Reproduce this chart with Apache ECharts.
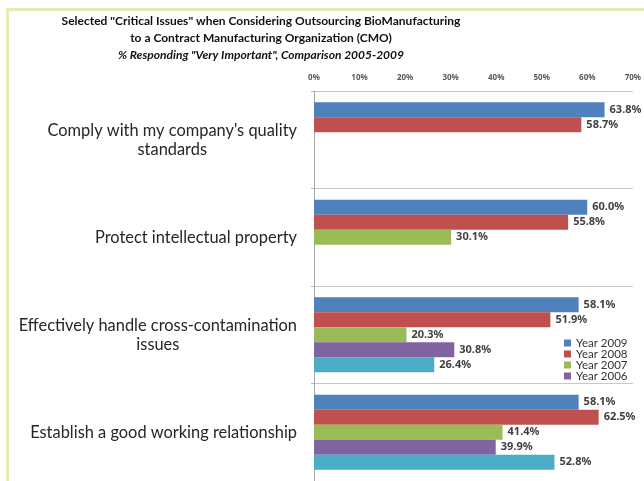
<!DOCTYPE html>
<html>
<head>
<meta charset="utf-8">
<script src="https://cdn.jsdelivr.net/npm/echarts@6/dist/echarts.min.js"></script>
<style>
	html, body { margin: 0; padding: 0; background: #fff; }
	#chart { width: 644px; height: 481px; }
</style>
</head>
<body>
<div id="chart"></div>
<script>
// 数据
var issues = [
	"Comply with my company's quality\nstandards",
	"Protect intellectual property",
	"Effectively handle cross-contamination\nissues",
	"Establish a good working relationship"
];
var years = ['Year 2009', 'Year 2008', 'Year 2007', 'Year 2006', 'Year 2005'];
var legendYears = ['Year 2009', 'Year 2008', 'Year 2007', 'Year 2006'];
var y2009 = [63.8, 60.0, 58.1, 58.1];
var y2008 = [58.7, 55.8, 51.9, 62.5];
var y2007 = [null, 30.1, 20.3, 41.4];
var y2006 = [null, null, 30.8, 39.9];
var y2005 = [null, null, 26.4, 52.8];
var xTicks = [0, 10, 20, 30, 40, 50, 60, 70];

var colors = ['#4F81BD', '#C0504D', '#9BBB59', '#8064A2', '#4BACC6'];
var seriesData = [y2009, y2008, y2007, y2006, y2005];

var chart = echarts.init(document.getElementById('chart'));

var series = [];
for (var i = 0; i < years.length; i++) {
	series.push({
		name: years[i],
		type: 'bar',
		barWidth: 15,
		barGap: '0%',
		itemStyle: { color: colors[i] },
		label: {
			show: true,
			position: 'right',
			distance: 5,
			fontSize: 11,
			fontWeight: 'bold',
			color: '#404040',
			fontFamily: 'Noto Sans',
			formatter: function (p) { return p.value.toFixed(1) + '%'; }
		},
		data: seriesData[i]
	});
}

var option = {
	animation: false,
	color: colors,
	title: {
		text: 'Selected "Critical Issues" when Considering Outsourcing BioManufacturing\nto a Contract Manufacturing Organization (CMO)',
		subtext: '% Responding "Very Important", Comparison 2005-2009',
		left: 256,
		textAlign: 'center',
		top: 8,
		itemGap: 0,
		textStyle: {
			fontFamily: 'Lato',
			fontSize: 12,
			fontWeight: 'bold',
			color: '#111',
			lineHeight: 17
		},
		subtextStyle: {
			fontFamily: 'Lato',
			fontSize: 12,
			fontWeight: 'bold',
			fontStyle: 'italic',
			color: '#111',
			lineHeight: 16
		}
	},
	legend: {
		data: legendYears,
		orient: 'vertical',
		left: 559,
		top: 332,
		icon: 'rect',
		itemWidth: 7,
		itemHeight: 7,
		itemGap: -1,
		textStyle: { fontFamily: 'Lato', fontSize: 11.5, color: '#333', lineHeight: 11.7 }
	},
	grid: { left: 314, top: 91, width: 321, height: 400 },
	xAxis: {
		type: 'value',
		position: 'top',
		min: 0,
		max: 70,
		interval: 10,
		axisLine: { show: false },
		axisTick: { show: false },
		splitLine: { show: false },
		axisLabel: {
			margin: 9,
			fontFamily: 'Noto Sans',
			fontSize: 8,
			fontWeight: 'bold',
			color: '#595959',
			formatter: function (v) { return xTicks.indexOf(v) >= 0 ? v + '%' : ''; }
		}
	},
	yAxis: {
		type: 'category',
		inverse: true,
		data: issues,
		axisLine: { show: true, lineStyle: { color: '#a6a6a6' } },
		axisTick: { show: true, length: 3, lineStyle: { color: '#b5b5b5' } },
		splitLine: { show: true, lineStyle: { color: '#c8c8c8' } },
		axisLabel: {
			margin: 17,
			formatter: function (v) {
				return v.split('\n').map(function (s) { return '{c|' + s + '}'; }).join('\n');
			},
			rich: {
				c: {
					fontFamily: 'Lato',
					fontSize: 16.4,
					color: '#262626',
					align: 'center',
					lineHeight: 19
				}
			}
		}
	},
	graphic: [
		{ type: 'rect', left: 6, top: 8, shape: { width: 638, height: 3 }, style: { fill: '#e3edb4' }, silent: true },
		{ type: 'rect', left: 6, top: 8, shape: { width: 3, height: 473 }, style: { fill: '#e3edb4' }, silent: true }
	],
	series: series
};

chart.setOption(option);
</script>
</body>
</html>
